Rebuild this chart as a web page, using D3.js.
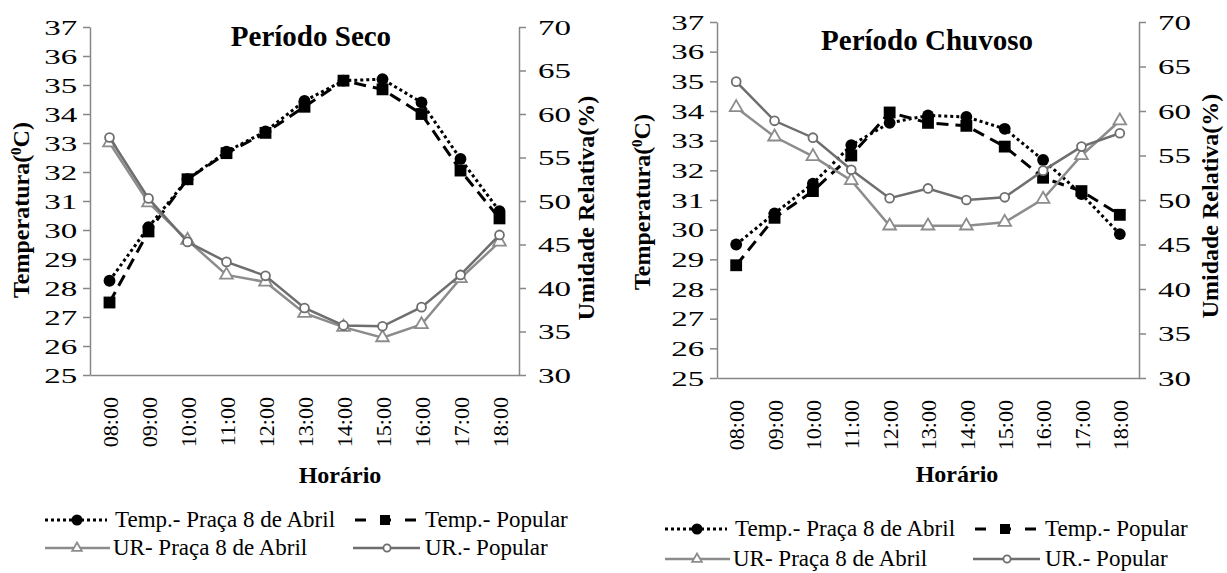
<!DOCTYPE html>
<html>
<head>
<meta charset="utf-8">
<script src="https://cdn.jsdelivr.net/npm/d3@7"></script>
<style>
  body { margin: 0; background: #fff; }
  svg text { font-family: "Liberation Serif", "Times New Roman", serif; fill: #000; }
</style>
</head>
<body>
<script>

// categories and ticks
const horarios = ["08:00", "09:00", "10:00", "11:00", "12:00", "13:00", "14:00", "15:00", "16:00", "17:00", "18:00"];
const tempTicks = [25, 26, 27, 28, 29, 30, 31, 32, 33, 34, 35, 36, 37];
const urTicks = [30, 35, 40, 45, 50, 55, 60, 65, 70];
const seriesNames = ["Temp.- Praça 8 de Abril", "Temp.- Popular", "UR- Praça 8 de Abril", "UR.- Popular"];

// Período Seco
const secoTempPraca   = [28.25, 30.1, 31.75, 32.7, 33.4, 34.45, 35.15, 35.2, 34.4, 32.45, 30.65];
const secoTempPopular = [27.5, 29.95, 31.75, 32.65, 33.35, 34.25, 35.15, 34.85, 34.0, 32.05, 30.4];
const secoUrPraca     = [56.7, 49.8, 45.5, 41.5, 40.7, 37.1, 35.5, 34.3, 35.8, 41.1, 45.3];
const secoUrPopular   = [57.3, 50.3, 45.3, 43.0, 41.4, 37.7, 35.7, 35.6, 37.8, 41.5, 46.1];

// Período Chuvoso
const chuvaTempPraca   = [29.5, 30.55, 31.55, 32.85, 33.6, 33.85, 33.8, 33.4, 32.35, 31.2, 29.85];
const chuvaTempPopular = [28.8, 30.4, 31.3, 32.5, 33.95, 33.6, 33.5, 32.8, 31.75, 31.3, 30.5];
const chuvaUrPraca     = [60.4, 57.1, 54.9, 52.2, 47.1, 47.1, 47.1, 47.5, 50.1, 55.0, 58.9];
const chuvaUrPopular   = [63.3, 58.9, 57.0, 53.4, 50.2, 51.3, 50.0, 50.3, 53.3, 56.0, 57.5];

const axisColor = "#878787";
const serif = '"Liberation Serif", "Times New Roman", serif';

// line / marker look of the 4 series
const styles = [
  {color: "#000", width: 3, dash: "3,3", symbol: d3.symbolCircle, size: 110, fill: "#000", lsize: 95},
  {color: "#000", width: 3, dash: "12,7", symbol: d3.symbolSquare, size: 140, fill: "#000", lsize: 100},
  {color: "#8c8c8c", width: 2.5, dash: null, symbol: d3.symbolTriangle, size: 70, fill: "#fff", lsize: 40},
  {color: "#6e6e6e", width: 2.5, dash: null, symbol: d3.symbolCircle, size: 62, fill: "#fff", lsize: 40}
];

const charts = [
  {title: "Período Seco", left: 90, right: 519, top: 27, bottom: 375,
   series: [secoTempPraca, secoTempPopular, secoUrPraca, secoUrPopular],
   titleX: 311, titleY: 46, xTitleX: 340, xTitleY: 483,
   yTitleL: [29, 210], yTitleR: [594, 208],
   legend: {dx: 0, rows: [520, 548]}},
  {title: "Período Chuvoso", left: 717, right: 1139, top: 22, bottom: 378,
   series: [chuvaTempPraca, chuvaTempPopular, chuvaUrPraca, chuvaUrPopular],
   titleX: 927, titleY: 50, xTitleX: 957, xTitleY: 482,
   yTitleL: [650, 202], yTitleR: [1218, 206],
   legend: {dx: 620, rows: [529, 559]}}
];

const svg = d3.select("body").append("svg")
    .attr("width", 1227)
    .attr("height", 573);

function styleAxis(ax) {
  ax.attr("font-family", serif);
  ax.select(".domain").attr("stroke", axisColor).attr("stroke-width", 1.5);
  ax.selectAll(".tick line").attr("stroke", axisColor).attr("stroke-width", 1.5);
  ax.selectAll(".tick text").attr("fill", "#000");
}

function drawChart(c) {
  const g = svg.append("g");

  const x = d3.scalePoint().domain(horarios).range([c.left, c.right]).padding(0.5);
  const yT = d3.scaleLinear().domain([25, 37]).range([c.bottom, c.top]);
  const yH = d3.scaleLinear().domain([30, 70]).range([c.bottom, c.top]);

  // left axis (temperature)
  const axL = g.append("g")
      .attr("transform", "translate(" + c.left + ",0)")
      .call(d3.axisLeft(yT).tickValues(tempTicks).tickSize(7).tickSizeOuter(0).tickPadding(1.5));
  styleAxis(axL);
  axL.attr("font-size", 22);
  axL.selectAll(".tick text").attr("transform", "scale(1.5,1)");

  // right axis (humidity)
  const axR = g.append("g")
      .attr("transform", "translate(" + c.right + ",0)")
      .call(d3.axisRight(yH).tickValues(urTicks).tickSize(7).tickSizeOuter(0).tickPadding(5.7));
  styleAxis(axR);
  axR.attr("font-size", 22);
  axR.selectAll(".tick text").attr("transform", "scale(1.5,1)");

  // bottom axis (hours)
  const axB = g.append("g")
      .attr("transform", "translate(0," + c.bottom + ")")
      .call(d3.axisBottom(x).tickSize(0).tickSizeOuter(0));
  styleAxis(axB);
  axB.attr("font-size", 22);
  axB.selectAll(".tick text")
      .attr("transform", "rotate(-90)")
      .attr("text-anchor", "end")
      .attr("x", -22)
      .attr("y", 0)
      .attr("dy", "0.35em");

  // lines + markers
  c.series.forEach((vals, i) => {
    const s = styles[i];
    const y = i < 2 ? yT : yH;
    const line = d3.line().x((d, j) => x(horarios[j])).y(d => y(d));
    g.append("path")
        .datum(vals)
        .attr("d", line)
        .attr("fill", "none")
        .attr("stroke", s.color)
        .attr("stroke-width", s.width)
        .attr("stroke-dasharray", s.dash);
    g.selectAll(".m" + i)
        .data(vals)
        .join("path")
        .attr("class", "m" + i)
        .attr("transform", (d, j) => "translate(" + x(horarios[j]) + "," + y(d) + ")")
        .attr("d", d3.symbol().type(s.symbol).size(s.size))
        .attr("fill", s.fill)
        .attr("stroke", i < 2 ? "none" : s.color)
        .attr("stroke-width", 1.8);
  });

  // titles
  g.append("text")
      .attr("x", c.titleX).attr("y", c.titleY)
      .attr("text-anchor", "middle")
      .attr("font-size", 29).attr("font-weight", "bold")
      .text(c.title);

  g.append("text")
      .attr("x", c.xTitleX).attr("y", c.xTitleY)
      .attr("text-anchor", "middle")
      .attr("font-size", 24).attr("font-weight", "bold")
      .text("Horário");

  const tl = g.append("text")
      .attr("transform", "translate(" + c.yTitleL[0] + "," + c.yTitleL[1] + ") rotate(-90)")
      .attr("text-anchor", "middle")
      .attr("font-size", 24).attr("font-weight", "bold");
  tl.append("tspan").text("Temperatura(");
  tl.append("tspan").attr("font-size", 15).attr("dy", -8).text("0");
  tl.append("tspan").attr("dy", 8).text("C)");

  g.append("text")
      .attr("transform", "translate(" + c.yTitleR[0] + "," + c.yTitleR[1] + ") rotate(-90)")
      .attr("text-anchor", "middle")
      .attr("font-size", 24).attr("font-weight", "bold")
      .text("Umidade Relativa(%)");

  // legend
  const L = c.legend;
  const items = [
    {x1: 45, x2: 107, mx: 77, tx: 115, row: 0, dash: "3,3"},
    {x1: 355, x2: 417, mx: 385, tx: 425, row: 0, dash: "11,14"},
    {x1: 45, x2: 110, mx: 77, tx: 113, row: 1, dash: null},
    {x1: 353, x2: 420, mx: 387, tx: 425, row: 1, dash: null}
  ];
  items.forEach((it, i) => {
    const s = styles[i];
    const cy = L.rows[it.row];
    g.append("line")
        .attr("x1", it.x1 + L.dx).attr("x2", it.x2 + L.dx)
        .attr("y1", cy).attr("y2", cy)
        .attr("stroke", s.color)
        .attr("stroke-width", s.width)
        .attr("stroke-dasharray", it.dash);
    g.append("path")
        .attr("transform", "translate(" + (it.mx + L.dx) + "," + cy + ")")
        .attr("d", d3.symbol().type(s.symbol).size(s.lsize))
        .attr("fill", s.fill)
        .attr("stroke", i < 2 ? "none" : s.color)
        .attr("stroke-width", 1.8);
    g.append("text")
        .attr("x", it.tx + L.dx).attr("y", cy + 7)
        .attr("font-size", 23)
        .text(seriesNames[i]);
  });
}

charts.forEach(drawChart);

</script>
</body>
</html>
